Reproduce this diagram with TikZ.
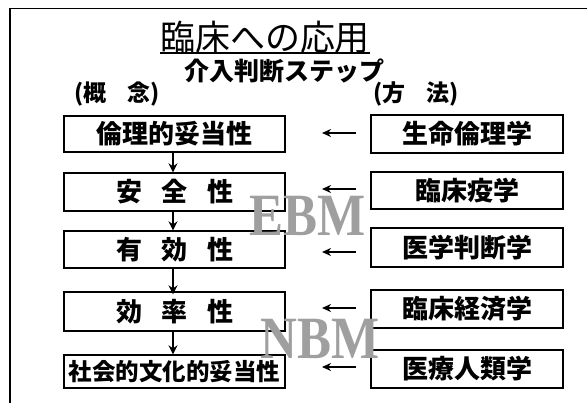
\documentclass[tikz,border=0pt]{standalone}
\usepackage{fontspec}
\newfontfamily\jp{Noto Sans CJK JP}
\newfontfamily\serifbig{Liberation Serif}
\usetikzlibrary{arrows.meta}
\begin{document}
\begin{tikzpicture}[x=1pt,y=-1pt,
  lbox/.style={draw=black,line width=1.3pt,minimum width=221pt,inner sep=0pt,font=\jp\bfseries\fontsize{26}{26}\selectfont},
  rbox/.style={draw=black,line width=1.3pt,minimum width=192pt,inner sep=0pt,font=\jp\bfseries\fontsize{26}{26}\selectfont},
  down/.style={line width=1.8pt,-{Stealth[length=9pt,width=9pt]}},
  left/.style={line width=1.8pt,-{Stealth[length=9pt,width=8pt]}},
  big/.style={font=\serifbig\bfseries\fontsize{60}{60}\selectfont,text=gray!75,xscale=0.85,transform shape,inner sep=0pt}
]
\useasboundingbox (0,0) rectangle (587,403);
\draw[line width=1.6pt] (10,403) -- (10,8.5) -- (587,8.5);
% titles
\node (title) at (265,37) {\jp\fontsize{35}{35}\selectfont 臨床への応用};
\draw[line width=1.6pt] (160,53) -- (370,53);
\node (sub) at (284,71) {\jp\bfseries\fontsize{25}{25}\selectfont 介入判断ステップ};
\node (gainen) at (117,94) {\jp\bfseries\fontsize{23}{23}\selectfont (概\hspace{0.9em}念)};
\node (hoho) at (416,94) {\jp\bfseries\fontsize{23}{23}\selectfont (方\hspace{0.9em}法)};
% left boxes
\node[lbox,minimum height=36pt] (L1) at (174.5,134) {倫理的妥当性};
\node[lbox,minimum height=38pt] (L2) at (174.5,192) {安\hspace{0.75em}全\hspace{0.75em}性};
\node[lbox,minimum height=37pt] (L3) at (174.5,249.5) {有\hspace{0.75em}効\hspace{0.75em}性};
\node[lbox,minimum height=39pt] (L4) at (174.5,311.5) {効\hspace{0.75em}率\hspace{0.75em}性};
\node[lbox,minimum height=33pt,font=\jp\bfseries\fontsize{23.5}{23.5}\selectfont] (L5) at (174.5,371.5) {社会的文化的妥当性};
% right boxes
\node[rbox,minimum height=38pt] (R1) at (467,134) {生命倫理学};
\node[rbox,minimum height=37pt] (R2) at (467,190.5) {臨床疫学};
\node[rbox,minimum height=39pt] (R3) at (467,247.5) {医学判断学};
\node[rbox,minimum height=38pt] (R4) at (467,309) {臨床経済学};
\node[rbox,minimum height=38pt] (R5) at (467,369) {医療人類学};
% down arrows
\draw[down] (L1.south -| 173,0) -- (L2.north -| 173,0);
\draw[down] (L2.south -| 173,0) -- (L3.north -| 173,0);
\draw[down] (L3.south -| 173,0) -- ([yshift=-3pt]L4.north -| 173,0);
\draw[down] (L4.south -| 173,0) -- (L5.north -| 173,0);
% left arrows
\coordinate (a1s) at (356,133); \coordinate (a1e) at (322,133);
\coordinate (a2s) at (356,189); \coordinate (a2e) at (322,189);
\coordinate (a3s) at (356,252); \coordinate (a3e) at (322,252);
\coordinate (a4s) at (356,308); \coordinate (a4e) at (322,308);
\coordinate (a5s) at (356,367); \coordinate (a5e) at (322,367);
\draw[left] (a1s) -- (a1e);
\draw[left] (a2s) -- (a2e);
\draw[left] (a3s) -- (a3e);
\draw[left] (a4s) -- (a4e);
\draw[left] (a5s) -- (a5e);
% EBM / NBM
\node[big] (ebm) at (308,216) {EBM};
\node[big] (nbm) at (320,339) {NBM};
\end{tikzpicture}
\end{document}
